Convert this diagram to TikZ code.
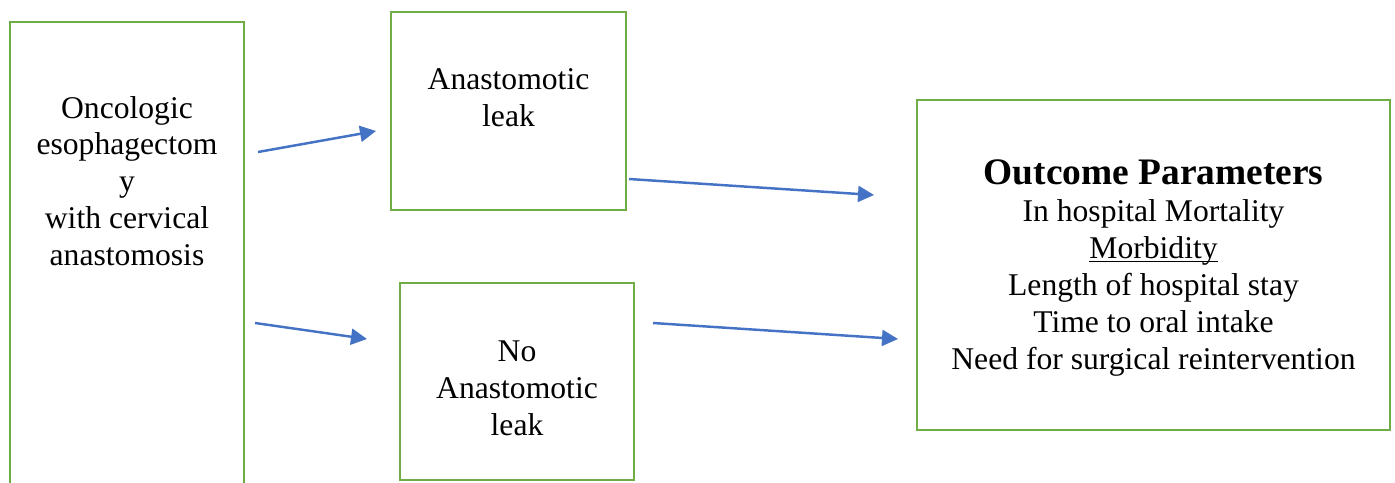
\documentclass[tikz,border=0pt]{standalone}
\usepackage{fontspec}
\setmainfont{Liberation Serif}
\usetikzlibrary{arrows.meta}
\definecolor{boxgreen}{HTML}{70AD47}
\definecolor{flowblue}{HTML}{4472C4}
\tikzset{
  stagebox/.style={draw=boxgreen, line width=1.4pt, inner sep=0pt},
  stagetext/.style={align=center, font=\fontsize{18}{21}\selectfont},
  flow/.style={draw=flowblue, line width=1.4pt, -{Triangle[length=0.32cm,width=0.32cm]}}
}
\begin{document}
\begin{tikzpicture}[x=0.02cm,y=-0.02cm]
   \useasboundingbox (0,0) rectangle (1395,483);
   % Boxes
   \node[stagebox, minimum width=4.68cm, minimum height=9.96cm] (surgery) at (127,271) {};
   \node[stagebox, minimum width=4.70cm, minimum height=3.96cm] (leak) at (508.5,111) {};
   \node[stagebox, minimum width=4.68cm, minimum height=3.94cm] (noleak) at (517,381.5) {};
   \node[stagebox, minimum width=9.46cm, minimum height=6.60cm] (outcome) at (1153.5,265) {};
   % Texts
   \node[stagetext] (surgerytxt) at (127,181) {Oncologic\\esophagectom\\y\\with cervical\\anastomosis};
   \node[stagetext] (leaktxt) at (508.5,98) {Anastomotic\\leak};
   \node[stagetext] (noleaktxt) at (517,388) {No\\Anastomotic\\leak};
   \node[stagetext] (outcometxt) at (1153.5,268)
        {{\fontsize{21.3}{24}\selectfont\bfseries Outcome Parameters}\\
         In hospital Mortality\\ \underline{Morbidit\smash{y}}\\ Length of hospital stay\\
         Time to oral intake\\ Need for surgical reintervention};
   % Arrows
   \coordinate (s1) at (258,152); \coordinate (e1) at (376,131);
   \coordinate (s2) at (255,323); \coordinate (e2) at (367,339);
   \coordinate (s3) at (629,179); \coordinate (e3) at (874,195);
   \coordinate (s4) at (653,323); \coordinate (e4) at (898,339);
   \draw[flow] (s1) -- (e1);
   \draw[flow] (s2) -- (e2);
   \draw[flow] (s3) -- (e3);
   \draw[flow] (s4) -- (e4);
\end{tikzpicture}
\end{document}
